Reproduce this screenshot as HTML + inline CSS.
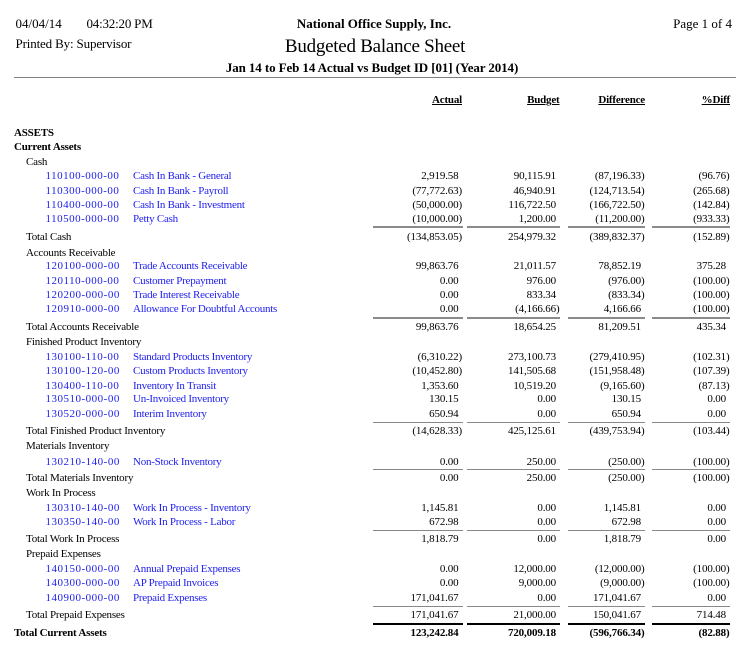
<!DOCTYPE html>
<html>
<head>
<meta charset="utf-8">
<style>
html,body{margin:0;padding:0;background:#fff;}
body{width:753px;height:648px;position:relative;overflow:hidden;font-family:"Liberation Serif","Times New Roman",serif;color:#000;}
.t{position:absolute;white-space:nowrap;}
.h13{font-size:13px;line-height:16px;height:16px;}
.r{position:absolute;white-space:nowrap;font-size:11px;line-height:14px;height:14px;letter-spacing:-0.2px;}
.b{font-weight:bold;}
.acc{left:45.5px;color:#2020f0;letter-spacing:0.5px;}
.desc{left:133px;color:#2020f0;letter-spacing:-0.25px;}
.l1{left:14px;}
.l2{left:26px;}
.cA{right:291px;}
.cB{right:193.5px;}
.cD{right:108.5px;}
.cP{right:23.5px;}
.n{letter-spacing:-0.15px;}
.pos{padding-right:3.5px;}
.ln{position:absolute;height:1px;background:#888;}
.ln2{position:absolute;height:2px;background:#8a8a8a;}
.lnk{position:absolute;height:2px;background:#000;}
.hd{position:absolute;white-space:nowrap;font-size:11px;line-height:14px;font-weight:bold;text-decoration:underline;letter-spacing:-0.2px;top:93px;}
</style>
</head>
<body>
<!-- Header -->
<div class="t h13" style="left:15.5px;top:16px;">04/04/14</div>
<div class="t h13" style="left:86.5px;top:16px;letter-spacing:-0.2px;">04:32:20 PM</div>
<div class="t h13 b" style="left:0;width:748px;text-align:center;top:16px;">National Office Supply, Inc.</div>
<div class="t h13" style="right:21px;top:16px;">Page 1 of 4</div>
<div class="t h13" style="left:15.5px;top:36px;letter-spacing:-0.15px;">Printed By: Supervisor</div>
<div class="t" style="left:0;width:750px;text-align:center;top:36px;font-size:19px;line-height:22px;letter-spacing:-0.25px;">Budgeted Balance Sheet</div>
<div class="t h13 b" style="left:0;width:744px;text-align:center;top:60px;letter-spacing:-0.1px;">Jan 14 to Feb 14 Actual vs Budget ID [01] (Year 2014)</div>
<div class="ln" style="left:14px;width:722px;top:77px;background:#808080;"></div>

<div class="hd" style="right:291px;">Actual</div>
<div class="hd" style="right:193.5px;">Budget</div>
<div class="hd" style="right:108px;">Difference</div>
<div class="hd" style="right:23px;">%Diff</div>

<!-- ASSETS -->
<div class="r b l1" style="top:125.5px;">ASSETS</div>
<div class="r b l1" style="top:140px;">Current Assets</div>
<div class="r l2" style="top:155px;">Cash</div>

<div class="r acc" style="top:169px;">110100-000-00</div><div class="r desc" style="top:169px;">Cash In Bank - General</div>
<div class="r n cA pos" style="top:169px;">2,919.58</div><div class="r n cB pos" style="top:169px;">90,115.91</div><div class="r n cD" style="top:169px;">(87,196.33)</div><div class="r n cP" style="top:169px;">(96.76)</div>

<div class="r acc" style="top:184px;">110300-000-00</div><div class="r desc" style="top:184px;">Cash In Bank - Payroll</div>
<div class="r n cA" style="top:184px;">(77,772.63)</div><div class="r n cB pos" style="top:184px;">46,940.91</div><div class="r n cD" style="top:184px;">(124,713.54)</div><div class="r n cP" style="top:184px;">(265.68)</div>

<div class="r acc" style="top:198.3px;">110400-000-00</div><div class="r desc" style="top:198.3px;">Cash In Bank - Investment</div>
<div class="r n cA" style="top:198.3px;">(50,000.00)</div><div class="r n cB pos" style="top:198.3px;">116,722.50</div><div class="r n cD" style="top:198.3px;">(166,722.50)</div><div class="r n cP" style="top:198.3px;">(142.84)</div>

<div class="r acc" style="top:212.3px;">110500-000-00</div><div class="r desc" style="top:212.3px;">Petty Cash</div>
<div class="r n cA" style="top:212.3px;">(10,000.00)</div><div class="r n cB pos" style="top:212.3px;">1,200.00</div><div class="r n cD" style="top:212.3px;">(11,200.00)</div><div class="r n cP" style="top:212.3px;">(933.33)</div>

<div class="ln2" style="left:373px;width:90px;top:226px;"></div>
<div class="ln2" style="left:467px;width:93px;top:226px;"></div>
<div class="ln2" style="left:568px;width:77px;top:226px;"></div>
<div class="ln2" style="left:652px;width:78px;top:226px;"></div>

<div class="r l2" style="top:230px;">Total Cash</div>
<div class="r n cA" style="top:230px;">(134,853.05)</div><div class="r n cB pos" style="top:230px;">254,979.32</div><div class="r n cD" style="top:230px;">(389,832.37)</div><div class="r n cP" style="top:230px;">(152.89)</div>

<div class="r l2" style="top:245.5px;">Accounts Receivable</div>

<div class="r acc" style="top:259px;">120100-000-00</div><div class="r desc" style="top:259px;">Trade Accounts Receivable</div>
<div class="r n cA pos" style="top:259px;">99,863.76</div><div class="r n cB pos" style="top:259px;">21,011.57</div><div class="r n cD pos" style="top:259px;">78,852.19</div><div class="r n cP pos" style="top:259px;">375.28</div>

<div class="r acc" style="top:274.3px;">120110-000-00</div><div class="r desc" style="top:274.3px;">Customer Prepayment</div>
<div class="r n cA pos" style="top:274.3px;">0.00</div><div class="r n cB pos" style="top:274.3px;">976.00</div><div class="r n cD" style="top:274.3px;">(976.00)</div><div class="r n cP" style="top:274.3px;">(100.00)</div>

<div class="r acc" style="top:288.3px;">120200-000-00</div><div class="r desc" style="top:288.3px;">Trade Interest Receivable</div>
<div class="r n cA pos" style="top:288.3px;">0.00</div><div class="r n cB pos" style="top:288.3px;">833.34</div><div class="r n cD" style="top:288.3px;">(833.34)</div><div class="r n cP" style="top:288.3px;">(100.00)</div>

<div class="r acc" style="top:302.3px;">120910-000-00</div><div class="r desc" style="top:302.3px;">Allowance For Doubtful Accounts</div>
<div class="r n cA pos" style="top:302.3px;">0.00</div><div class="r n cB" style="top:302.3px;">(4,166.66)</div><div class="r n cD pos" style="top:302.3px;">4,166.66</div><div class="r n cP" style="top:302.3px;">(100.00)</div>

<div class="ln2" style="left:373px;width:90px;top:317px;"></div>
<div class="ln2" style="left:467px;width:93px;top:317px;"></div>
<div class="ln2" style="left:568px;width:77px;top:317px;"></div>
<div class="ln2" style="left:652px;width:78px;top:317px;"></div>

<div class="r l2" style="top:320.3px;">Total Accounts Receivable</div>
<div class="r n cA pos" style="top:320.3px;">99,863.76</div><div class="r n cB pos" style="top:320.3px;">18,654.25</div><div class="r n cD pos" style="top:320.3px;">81,209.51</div><div class="r n cP pos" style="top:320.3px;">435.34</div>

<div class="r l2" style="top:335px;">Finished Product Inventory</div>

<div class="r acc" style="top:349.7px;">130100-110-00</div><div class="r desc" style="top:349.7px;">Standard Products Inventory</div>
<div class="r n cA" style="top:349.7px;">(6,310.22)</div><div class="r n cB pos" style="top:349.7px;">273,100.73</div><div class="r n cD" style="top:349.7px;">(279,410.95)</div><div class="r n cP" style="top:349.7px;">(102.31)</div>

<div class="r acc" style="top:364px;">130100-120-00</div><div class="r desc" style="top:364px;">Custom Products Inventory</div>
<div class="r n cA" style="top:364px;">(10,452.80)</div><div class="r n cB pos" style="top:364px;">141,505.68</div><div class="r n cD" style="top:364px;">(151,958.48)</div><div class="r n cP" style="top:364px;">(107.39)</div>

<div class="r acc" style="top:378.7px;">130400-110-00</div><div class="r desc" style="top:378.7px;">Inventory In Transit</div>
<div class="r n cA pos" style="top:378.7px;">1,353.60</div><div class="r n cB pos" style="top:378.7px;">10,519.20</div><div class="r n cD" style="top:378.7px;">(9,165.60)</div><div class="r n cP" style="top:378.7px;">(87.13)</div>

<div class="r acc" style="top:392.3px;">130510-000-00</div><div class="r desc" style="top:392.3px;">Un-Invoiced Inventory</div>
<div class="r n cA pos" style="top:392.3px;">130.15</div><div class="r n cB pos" style="top:392.3px;">0.00</div><div class="r n cD pos" style="top:392.3px;">130.15</div><div class="r n cP pos" style="top:392.3px;">0.00</div>

<div class="r acc" style="top:407px;">130520-000-00</div><div class="r desc" style="top:407px;">Interim Inventory</div>
<div class="r n cA pos" style="top:407px;">650.94</div><div class="r n cB pos" style="top:407px;">0.00</div><div class="r n cD pos" style="top:407px;">650.94</div><div class="r n cP pos" style="top:407px;">0.00</div>

<div class="ln" style="left:373px;width:90px;top:422px;"></div>
<div class="ln" style="left:467px;width:93px;top:422px;"></div>
<div class="ln" style="left:568px;width:77px;top:422px;"></div>
<div class="ln" style="left:652px;width:78px;top:422px;"></div>

<div class="r l2" style="top:424.3px;">Total Finished Product Inventory</div>
<div class="r n cA" style="top:424.3px;">(14,628.33)</div><div class="r n cB pos" style="top:424.3px;">425,125.61</div><div class="r n cD" style="top:424.3px;">(439,753.94)</div><div class="r n cP" style="top:424.3px;">(103.44)</div>

<div class="r l2" style="top:439px;">Materials Inventory</div>

<div class="r acc" style="top:454.5px;">130210-140-00</div><div class="r desc" style="top:454.5px;">Non-Stock Inventory</div>
<div class="r n cA pos" style="top:454.5px;">0.00</div><div class="r n cB pos" style="top:454.5px;">250.00</div><div class="r n cD" style="top:454.5px;">(250.00)</div><div class="r n cP" style="top:454.5px;">(100.00)</div>

<div class="ln" style="left:373px;width:90px;top:469px;"></div>
<div class="ln" style="left:467px;width:93px;top:469px;"></div>
<div class="ln" style="left:568px;width:77px;top:469px;"></div>
<div class="ln" style="left:652px;width:78px;top:469px;"></div>

<div class="r l2" style="top:471.3px;">Total Materials Inventory</div>
<div class="r n cA pos" style="top:471.3px;">0.00</div><div class="r n cB pos" style="top:471.3px;">250.00</div><div class="r n cD" style="top:471.3px;">(250.00)</div><div class="r n cP" style="top:471.3px;">(100.00)</div>

<div class="r l2" style="top:486px;">Work In Process</div>

<div class="r acc" style="top:501.3px;">130310-140-00</div><div class="r desc" style="top:501.3px;">Work In Process - Inventory</div>
<div class="r n cA pos" style="top:501.3px;">1,145.81</div><div class="r n cB pos" style="top:501.3px;">0.00</div><div class="r n cD pos" style="top:501.3px;">1,145.81</div><div class="r n cP pos" style="top:501.3px;">0.00</div>

<div class="r acc" style="top:515.3px;">130350-140-00</div><div class="r desc" style="top:515.3px;">Work In Process - Labor</div>
<div class="r n cA pos" style="top:515.3px;">672.98</div><div class="r n cB pos" style="top:515.3px;">0.00</div><div class="r n cD pos" style="top:515.3px;">672.98</div><div class="r n cP pos" style="top:515.3px;">0.00</div>

<div class="ln" style="left:373px;width:90px;top:530px;"></div>
<div class="ln" style="left:467px;width:93px;top:530px;"></div>
<div class="ln" style="left:568px;width:77px;top:530px;"></div>
<div class="ln" style="left:652px;width:78px;top:530px;"></div>

<div class="r l2" style="top:532.3px;">Total Work In Process</div>
<div class="r n cA pos" style="top:532.3px;">1,818.79</div><div class="r n cB pos" style="top:532.3px;">0.00</div><div class="r n cD pos" style="top:532.3px;">1,818.79</div><div class="r n cP pos" style="top:532.3px;">0.00</div>

<div class="r l2" style="top:547.3px;">Prepaid Expenses</div>

<div class="r acc" style="top:562.3px;">140150-000-00</div><div class="r desc" style="top:562.3px;">Annual Prepaid Expenses</div>
<div class="r n cA pos" style="top:562.3px;">0.00</div><div class="r n cB pos" style="top:562.3px;">12,000.00</div><div class="r n cD" style="top:562.3px;">(12,000.00)</div><div class="r n cP" style="top:562.3px;">(100.00)</div>

<div class="r acc" style="top:576.3px;">140300-000-00</div><div class="r desc" style="top:576.3px;">AP Prepaid Invoices</div>
<div class="r n cA pos" style="top:576.3px;">0.00</div><div class="r n cB pos" style="top:576.3px;">9,000.00</div><div class="r n cD" style="top:576.3px;">(9,000.00)</div><div class="r n cP" style="top:576.3px;">(100.00)</div>

<div class="r acc" style="top:591px;">140900-000-00</div><div class="r desc" style="top:591px;">Prepaid Expenses</div>
<div class="r n cA pos" style="top:591px;">171,041.67</div><div class="r n cB pos" style="top:591px;">0.00</div><div class="r n cD pos" style="top:591px;">171,041.67</div><div class="r n cP pos" style="top:591px;">0.00</div>

<div class="ln" style="left:373px;width:90px;top:606px;"></div>
<div class="ln" style="left:467px;width:93px;top:606px;"></div>
<div class="ln" style="left:568px;width:77px;top:606px;"></div>
<div class="ln" style="left:652px;width:78px;top:606px;"></div>

<div class="r l2" style="top:608px;">Total Prepaid Expenses</div>
<div class="r n cA pos" style="top:608px;">171,041.67</div><div class="r n cB pos" style="top:608px;">21,000.00</div><div class="r n cD pos" style="top:608px;">150,041.67</div><div class="r n cP pos" style="top:608px;">714.48</div>

<div class="lnk" style="left:373px;width:90px;top:623px;"></div>
<div class="lnk" style="left:467px;width:93px;top:623px;"></div>
<div class="lnk" style="left:568px;width:77px;top:623px;"></div>
<div class="lnk" style="left:652px;width:78px;top:623px;"></div>

<div class="r b l1" style="top:626.3px;">Total Current Assets</div>
<div class="r b n cA pos" style="top:626.3px;">123,242.84</div><div class="r b n cB pos" style="top:626.3px;">720,009.18</div><div class="r b n cD" style="top:626.3px;">(596,766.34)</div><div class="r b n cP" style="top:626.3px;">(82.88)</div>
</body>
</html>
